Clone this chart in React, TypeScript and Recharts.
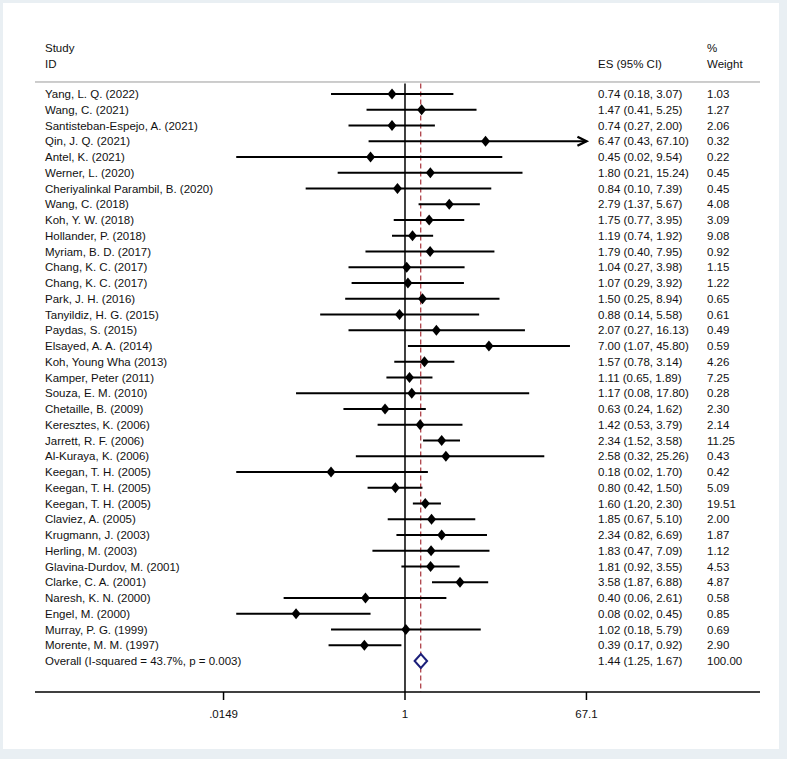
import React from 'react';
import { ComposedChart, Scatter, XAxis, YAxis, ReferenceLine } from 'recharts';

const studies = [
  'Yang, L. Q. (2022)',
  'Wang, C. (2021)',
  'Santisteban-Espejo, A. (2021)',
  'Qin, J. Q. (2021)',
  'Antel, K. (2021)',
  'Werner, L. (2020)',
  'Cheriyalinkal Parambil, B. (2020)',
  'Wang, C. (2018)',
  'Koh, Y. W. (2018)',
  'Hollander, P. (2018)',
  'Myriam, B. D. (2017)',
  'Chang, K. C. (2017)',
  'Chang, K. C. (2017)',
  'Park, J. H. (2016)',
  'Tanyildiz, H. G. (2015)',
  'Paydas, S. (2015)',
  'Elsayed, A. A. (2014)',
  'Koh, Young Wha (2013)',
  'Kamper, Peter (2011)',
  'Souza, E. M. (2010)',
  'Chetaille, B. (2009)',
  'Keresztes, K. (2006)',
  'Jarrett, R. F. (2006)',
  'Al-Kuraya, K. (2006)',
  'Keegan, T. H. (2005)',
  'Keegan, T. H. (2005)',
  'Keegan, T. H. (2005)',
  'Claviez, A. (2005)',
  'Krugmann, J. (2003)',
  'Herling, M. (2003)',
  'Glavina-Durdov, M. (2001)',
  'Clarke, C. A. (2001)',
  'Naresh, K. N. (2000)',
  'Engel, M. (2000)',
  'Murray, P. G. (1999)',
  'Morente, M. M. (1997)',
];

const es = [0.74, 1.47, 0.74, 6.47, 0.45, 1.8, 0.84, 2.79, 1.75, 1.19, 1.79, 1.04, 1.07, 1.5, 0.88, 2.07, 7.0, 1.57, 1.11, 1.17, 0.63, 1.42, 2.34, 2.58, 0.18, 0.8, 1.6, 1.85, 2.34, 1.83, 1.81, 3.58, 0.4, 0.08, 1.02, 0.39];
const lower = [0.18, 0.41, 0.27, 0.43, 0.02, 0.21, 0.1, 1.37, 0.77, 0.74, 0.4, 0.27, 0.29, 0.25, 0.14, 0.27, 1.07, 0.78, 0.65, 0.08, 0.24, 0.53, 1.52, 0.32, 0.02, 0.42, 1.2, 0.67, 0.82, 0.47, 0.92, 1.87, 0.06, 0.02, 0.18, 0.17];
const upper = [3.07, 5.25, 2.0, 67.1, 9.54, 15.24, 7.39, 5.67, 3.95, 1.92, 7.95, 3.98, 3.92, 8.94, 5.58, 16.13, 45.8, 3.14, 1.89, 17.8, 1.62, 3.79, 3.58, 25.26, 1.7, 1.5, 2.3, 5.1, 6.69, 7.09, 3.55, 6.88, 2.61, 0.45, 5.79, 0.92];
const weights = [1.03, 1.27, 2.06, 0.32, 0.22, 0.45, 0.45, 4.08, 3.09, 9.08, 0.92, 1.15, 1.22, 0.65, 0.61, 0.49, 0.59, 4.26, 7.25, 0.28, 2.3, 2.14, 11.25, 0.43, 0.42, 5.09, 19.51, 2.0, 1.87, 1.12, 4.53, 4.87, 0.58, 0.85, 0.69, 2.9];

const overallLabel = 'Overall  (I-squared = 43.7%, p = 0.003)';
const overallEs = 1.44;
const overallCi = [1.25, 1.67];
const overallWeight = 100;

const xTicks = [0.0149, 1, 67.1];
const xTickLabels = ['.0149', '1', '67.1'];

const FONT = "Arial, 'Liberation Sans', sans-serif";
const FS = 11.5;

const fmtCi = (e: number, lo: number, hi: number) => `${e.toFixed(2)} (${lo.toFixed(2)}, ${hi.toFixed(2)})`;

const rows = studies.map((name, i) => ({
  row: i + 1,
  name,
  es: es[i],
  lo: lower[i],
  hi: upper[i],
  ci: fmtCi(es[i], lower[i], upper[i]),
  w: weights[i].toFixed(2),
}));
const overallRow = rows.length + 1;
const overallData = [
  {
    row: overallRow,
    name: overallLabel,
    es: overallEs,
    ci: fmtCi(overallEs, overallCi[0], overallCi[1]),
    w: overallWeight.toFixed(2),
  },
];

const RowText = ({ y, p }: { y: number; p: any }) => (
  <g fontFamily={FONT} fontSize={FS} fill="#111" style={{ whiteSpace: 'pre' }}>
    <text x={45} y={y} dy="0.36em">{p.name}</text>
    <text x={598} y={y} dy="0.36em">{p.ci}</text>
    <text x={707} y={y} dy="0.36em">{p.w}</text>
  </g>
);

const StudyMark = (props: any) => {
  const { cx, cy, payload } = props;
  return (
    <g>
      <polygon points={`${cx - 4.5},${cy} ${cx},${cy - 5.5} ${cx + 4.5},${cy} ${cx},${cy + 5.5}`} fill="#000" />
      <RowText y={cy} p={payload} />
    </g>
  );
};

const OverallText = (props: any) => <RowText y={props.cy} p={props.payload} />;

const CiLine = (p: any) => {
  const { x1, y1, x2, y2, arrow } = p;
  return (
    <g>
      <line x1={x1} y1={y1} x2={x2} y2={y2} stroke="#000" strokeWidth={2} />
      {arrow && (
        <path
          d={`M${x2 - 9},${y2 - 4.5} L${x2},${y2} L${x2 - 9},${y2 + 4.5}`}
          fill="none"
          stroke="#000"
          strokeWidth={2.4}
          strokeLinejoin="miter"
        />
      )}
    </g>
  );
};

const OverallDiamond = (p: any) => {
  const { x1, y1, x2 } = p;
  const mx = (x1 + x2) / 2;
  return (
    <polygon
      points={`${x1},${y1} ${mx},${y1 - 7} ${x2},${y1} ${mx},${y1 + 7}`}
      fill="#fff"
      stroke="#1c1f7a"
      strokeWidth={2}
    />
  );
};

const Head = ({ x, y, children }: { x: number; y: number; children: React.ReactNode }) => (
  <div style={{ position: 'absolute', left: x, top: y, fontFamily: FONT, fontSize: FS, color: '#111', lineHeight: '14px', whiteSpace: 'nowrap' }}>
    {children}
  </div>
);

export default function App() {
  const yMin = -0.0159;
  const yMax = 38.968;
  const yTop = 0.333;
  const xMax = xTicks[xTicks.length - 1];
  return (
    <div style={{ position: 'fixed', left: 0, top: 0, width: 787, height: 759, background: '#e9eff3' }}>
      <div style={{ position: 'absolute', left: 3, top: 3, width: 776, height: 746, background: '#fff' }} />
      <div style={{ position: 'absolute', left: 0, top: 0 }}>
        <ComposedChart width={787} height={759} margin={{ top: 78, right: 27, bottom: 27, left: 35 }}>
          <XAxis
            type="number"
            dataKey="es"
            scale="log"
            domain={[1.884e-4, 3750]}
            allowDataOverflow
            ticks={xTicks}
            tickFormatter={(v: number) => xTickLabels[xTicks.indexOf(v)] ?? String(v)}
            height={40}
            tickSize={8}
            tickMargin={10}
            interval={0}
            axisLine={{ stroke: '#000', strokeWidth: 1.5 }}
            tickLine={{ stroke: '#000', strokeWidth: 1.5 }}
            tick={{ fill: '#111', fontSize: FS, fontFamily: FONT }}
          />
          <YAxis type="number" dataKey="row" domain={[yMin, yMax]} allowDataOverflow reversed width={0} hide />
          <ReferenceLine y={0.238} stroke="#9a9a9a" strokeWidth={1} />
          <ReferenceLine segment={[{ x: 1, y: yTop }, { x: 1, y: yMax }]} stroke="#000" strokeWidth={1.5} />
          <ReferenceLine
            segment={[{ x: overallEs, y: yTop }, { x: overallEs, y: yMax }]}
            stroke="#a8323a"
            strokeWidth={1.2}
            strokeDasharray="5 3"
          />
          {rows.map((r) => (
            <ReferenceLine
              key={r.row}
              segment={[{ x: r.lo, y: r.row }, { x: Math.min(r.hi, xMax), y: r.row }]}
              shape={(p: any) => <CiLine {...p} arrow={r.hi >= xMax} />}
            />
          ))}
          <ReferenceLine
            segment={[{ x: overallCi[0], y: overallRow }, { x: overallCi[1], y: overallRow }]}
            shape={(p: any) => <OverallDiamond {...p} />}
          />
          <Scatter data={rows} dataKey="row" shape={<StudyMark />} isAnimationActive={false} />
          <Scatter data={overallData} dataKey="row" shape={<OverallText />} isAnimationActive={false} />
        </ComposedChart>
      </div>
      <Head x={45} y={41}>Study</Head>
      <Head x={45} y={57}>ID</Head>
      <Head x={598} y={57}>ES (95% CI)</Head>
      <Head x={707} y={41}>%</Head>
      <Head x={707} y={57}>Weight</Head>
    </div>
  );
}
